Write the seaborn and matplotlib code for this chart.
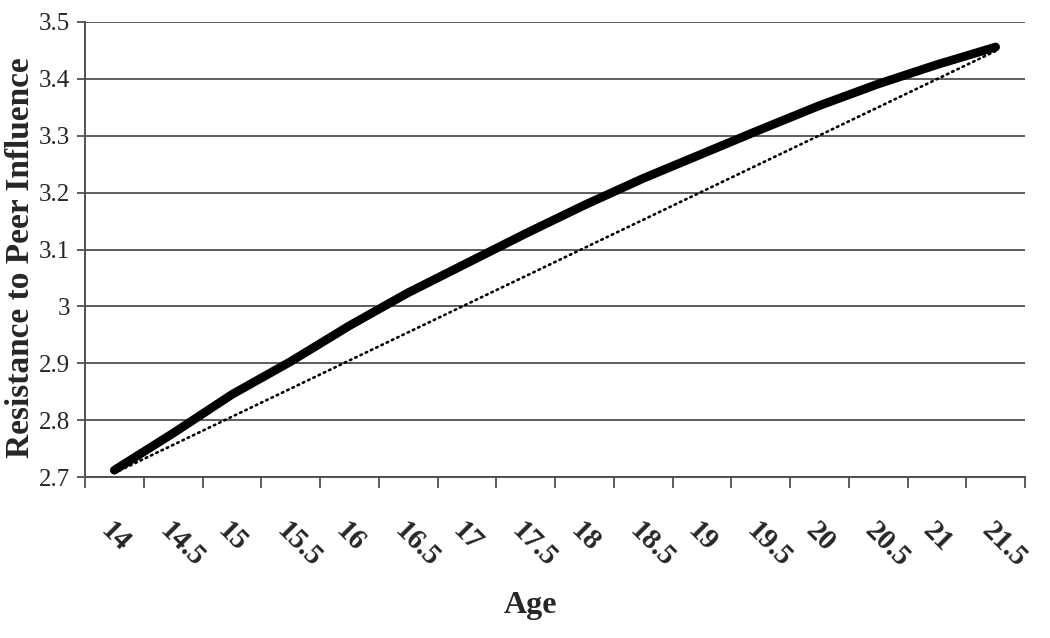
import matplotlib
matplotlib.use("Agg")
import matplotlib.pyplot as plt
import matplotlib.transforms as mtransforms
import seaborn as sns
import pandas as pd
import numpy as np

# ---- data ----
age_labels = ["14", "14.5", "15", "15.5", "16", "16.5", "17", "17.5",
              "18", "18.5", "19", "19.5", "20", "20.5", "21", "21.5"]
resistance = [2.712, 2.777, 2.845, 2.903, 2.966, 3.024, 3.076, 3.128,
              3.178, 3.225, 3.268, 3.311, 3.353, 3.391, 3.425, 3.456]
trend_ends_idx = [0, 15]
trend_ends_val = [2.707, 3.449]
y_ticks = [2.7, 2.8, 2.9, 3.0, 3.1, 3.2, 3.3, 3.4, 3.5]
y_tick_labels = ["2.7", "2.8", "2.9", "3", "3.1", "3.2", "3.3", "3.4", "3.5"]

sns.set_theme(style="white")
plt.rcParams["font.family"] = ["Liberation Serif", "DejaVu Serif"]

fig = plt.figure(figsize=(10.5, 6.38), dpi=100)
ax = fig.add_axes([85/1050, 1 - 477/638, 940/1050, 455/638])

df = pd.DataFrame({"pos": np.arange(len(age_labels)), "val": resistance})
dft = pd.DataFrame({"pos": trend_ends_idx, "val": trend_ends_val})

sns.lineplot(data=dft, x="pos", y="val", ax=ax, color="black", lw=1.9,
             linestyle=(0, (0.6, 1.6)), dash_capstyle="round", zorder=3)
sns.lineplot(data=df, x="pos", y="val", ax=ax, color="black", lw=6.3,
             solid_capstyle="round", solid_joinstyle="round", zorder=4)

ax.set_xlim(-0.5, len(age_labels) - 0.5)
ax.set_ylim(2.7, 3.5)
ax.set_yticks(y_ticks)
ax.set_yticklabels(y_tick_labels, fontsize=18)
ax.yaxis.grid(True, color="#505050", lw=1.3)
ax.set_axisbelow(True)

ax.set_xticks(np.arange(len(age_labels)))
ax.set_xticklabels(age_labels, rotation=-45, ha="left", va="top",
                   rotation_mode="anchor", fontsize=21, fontweight="bold")
offset = mtransforms.ScaledTranslation(9/100, 0, fig.dpi_scale_trans)
for lab in ax.get_xticklabels():
    lab.set_transform(lab.get_transform() + offset)
ax.set_xticks(np.arange(len(age_labels) + 1) - 0.5, minor=True)
ax.tick_params(axis="x", which="major", length=0, pad=29)
ax.tick_params(axis="x", which="minor", length=8, width=1.3,
               color="#505050", direction="out", bottom=True)
ax.tick_params(axis="y", which="major", length=5.5, width=1.3,
               color="#505050", direction="out", left=True, pad=5)

for s in ["top", "right"]:
    ax.spines[s].set_visible(False)
for s in ["left", "bottom"]:
    ax.spines[s].set_color("#505050")
    ax.spines[s].set_linewidth(1.4)

ax.set_xlabel("Age", fontsize=23, fontweight="bold")
ax.xaxis.set_label_coords((530 - 85) / 940, (477 - 605) / 455)
ax.xaxis.label.set_va("center")
ax.set_ylabel("Resistance to Peer Influence", fontsize=24, fontweight="bold")
ax.yaxis.set_label_coords((21 - 85) / 940, (477 - 258) / 455)
ax.yaxis.label.set_va("center")

fig.savefig("out.png", dpi=100, facecolor="white")
